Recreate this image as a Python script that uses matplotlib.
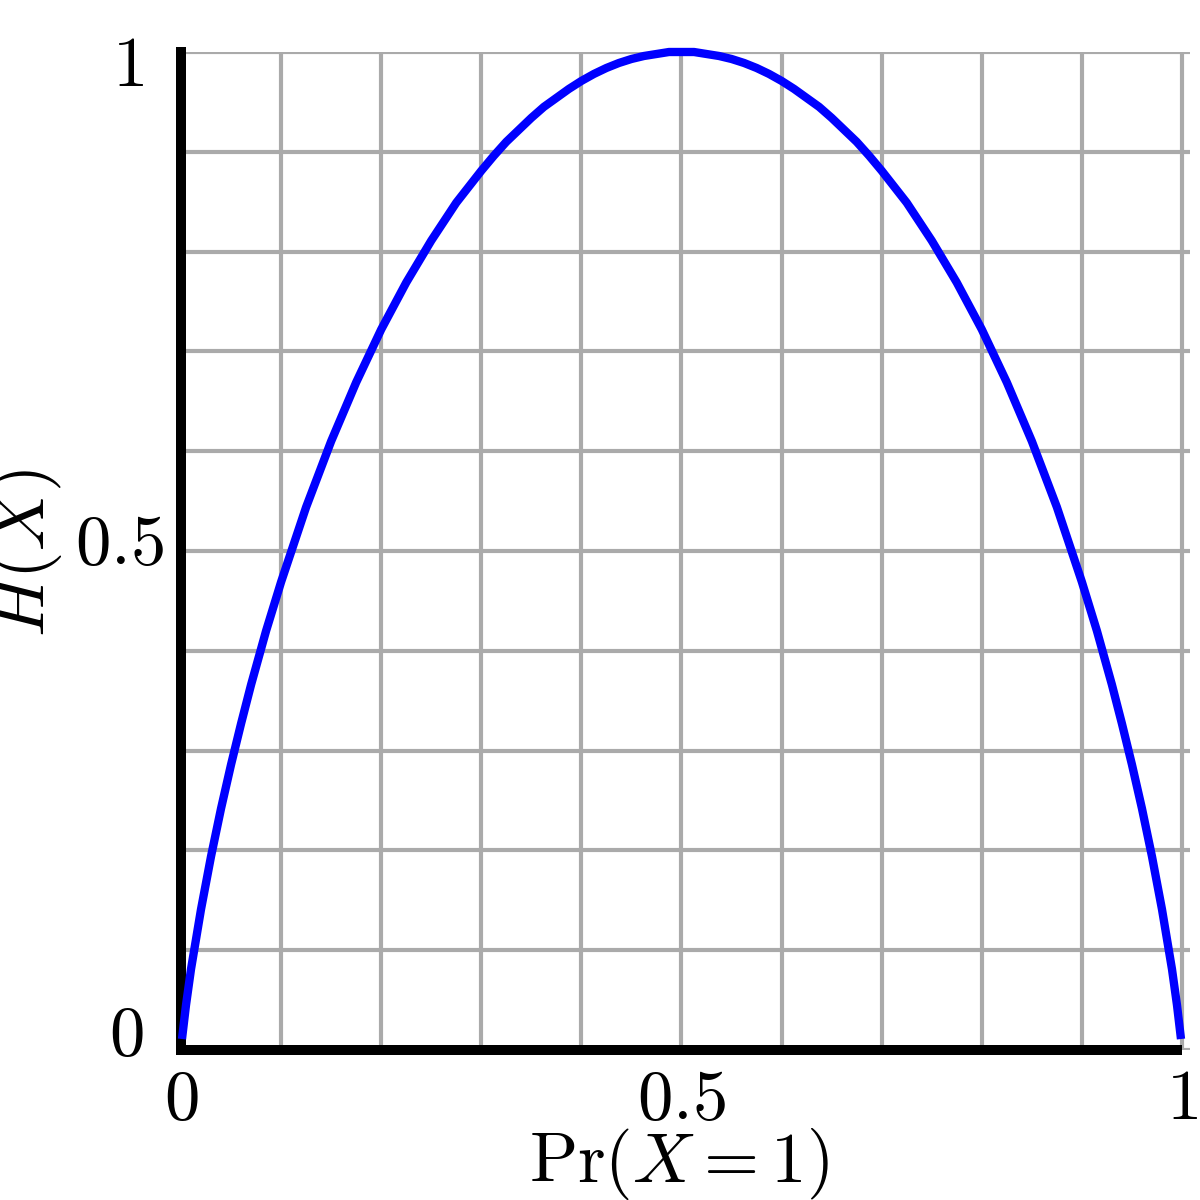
import matplotlib
matplotlib.use('Agg')
import matplotlib.pyplot as plt
from matplotlib.transforms import ScaledTranslation

# --- Data ---
p_values = [0.001, 0.005, 0.01, 0.02, 0.03, 0.04, 0.05, 0.06, 0.07, 0.085, 0.1,
            0.125, 0.15, 0.175, 0.2, 0.225, 0.25, 0.275, 0.3, 0.3125, 0.325,
            0.3375, 0.35, 0.3625, 0.375, 0.3875, 0.4, 0.4125, 0.425, 0.4375,
            0.45, 0.4625, 0.475, 0.4875, 0.5, 0.5125, 0.525, 0.5375, 0.55,
            0.5625, 0.575, 0.5875, 0.6, 0.6125, 0.625, 0.6375, 0.65, 0.6625,
            0.675, 0.6875, 0.7, 0.725, 0.75, 0.775, 0.8, 0.825, 0.85, 0.875,
            0.9, 0.915, 0.93, 0.94, 0.95, 0.96, 0.97, 0.98, 0.99, 0.995, 0.999]
h_values = [0.011, 0.045, 0.081, 0.141, 0.194, 0.242, 0.286, 0.327, 0.366, 0.420,
            0.469, 0.544, 0.610, 0.669, 0.722, 0.769, 0.811, 0.849, 0.881, 0.896,
            0.910, 0.922, 0.934, 0.945, 0.954, 0.963, 0.971, 0.978, 0.984, 0.989,
            0.993, 0.996, 0.998, 1.000, 1.000, 1.000, 0.998, 0.996, 0.993, 0.989,
            0.984, 0.978, 0.971, 0.963, 0.954, 0.945, 0.934, 0.922, 0.910, 0.896,
            0.881, 0.849, 0.811, 0.769, 0.722, 0.669, 0.610, 0.544, 0.469, 0.420,
            0.366, 0.327, 0.286, 0.242, 0.194, 0.141, 0.081, 0.045, 0.011]

x_ticks = [0, 0.5, 1]
x_tick_labels = ['$0$', '$0.5$', '$1$']
y_ticks = [0, 0.5, 1]
y_tick_labels = ['$0$', '$0.5$', '$1$']
grid_steps = [0.1 * i for i in range(11)]

# --- Style ---
FONT_SIZE = 51
GRID_COLOR = '#aaaaaa'
plt.rcParams['mathtext.fontset'] = 'cm'
plt.rcParams['font.family'] = ['DejaVu Serif']

fig = plt.figure(figsize=(12, 12), dpi=100)
ax = fig.add_axes([181 / 1200, 150 / 1200, 1009 / 1200, 998 / 1200])

ax.plot(p_values, h_values, color='#0000ff', linewidth=6, zorder=3,
        solid_capstyle='butt', solid_joinstyle='round', clip_on=False)

ax.set_xlim(0, 1.008)
ax.set_ylim(0, 1)

ax.set_xticks(grid_steps, minor=True)
ax.set_yticks(grid_steps, minor=True)
ax.set_xticks(x_ticks)
ax.set_xticklabels(x_tick_labels)
ax.set_yticks(y_ticks)
ax.set_yticklabels(y_tick_labels)
ax.grid(True, which='both', color=GRID_COLOR, linewidth=3)
ax.set_axisbelow(True)
ax.tick_params(which='both', length=0)
ax.tick_params(axis='x', labelsize=FONT_SIZE, pad=11)
ax.tick_params(axis='y', labelsize=FONT_SIZE, pad=27)

for side in ['top', 'right']:
    ax.spines[side].set_visible(False)
ax.spines['left'].set_linewidth(7.2)
ax.spines['bottom'].set_linewidth(7.2)
ax.spines['bottom'].set_bounds(0, 1)
ax.spines['bottom'].set_capstyle('butt')

# small per-label shifts so the tick labels sit where the original has them
y_shifts = [(0, 22), (20, 14), (0, -7)]
for lab, (dx, dy) in zip(ax.get_yticklabels(), y_shifts):
    lab.set_transform(lab.get_transform() +
                      ScaledTranslation(dx / 100, dy / 100, fig.dpi_scale_trans))

ax.set_xlabel(r'$\mathrm{Pr}(X = 1)$', fontsize=FONT_SIZE)
ax.xaxis.set_label_coords(0.4935, -0.076)
ax.set_ylabel(r'$H(X)$', fontsize=FONT_SIZE)
ax.yaxis.set_label_coords(-0.116, 0.498)

fig.savefig('out.png', dpi=100)
